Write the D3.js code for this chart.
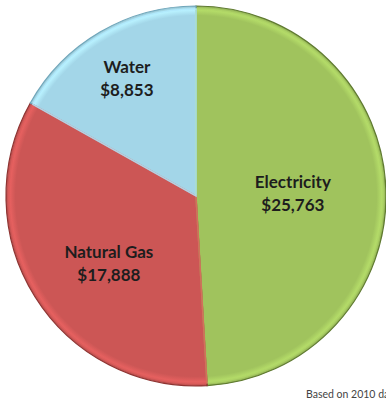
<!DOCTYPE html>
<html><head><meta charset="utf-8">
<script src="https://cdn.jsdelivr.net/npm/d3@7"></script>
<style>html,body{margin:0;padding:0;background:#fff;overflow:hidden}</style>
</head><body>
<svg id="c" width="386" height="404"></svg>
<script>
const categories = ["Electricity", "Natural Gas", "Water"];
const values = [25763, 17888, 8853];
const colors = ["#a0c35d", "#cc5655", "#a3d6e8"];
const strokes = ["#5f7a30", "#8e3432", "#6fa6ba"];
const footnote = "Based on 2010 data";

const svg = d3.select("#c");
const cx = 196, cy = 196, r = 190;
const g = svg.append("g").attr("transform", `translate(${cx},${cy})`);

const pie = d3.pie().sort(null).value(d => d.v);
const data = pie(categories.map((c, i) => ({c, v: values[i], i})));
const arc = d3.arc().innerRadius(0).outerRadius(r);
const inner = d3.arc().innerRadius(0).outerRadius(r - 3);

const defs = svg.append("defs");
colors.forEach((col, i) => {
  const rg = defs.append("radialGradient").attr("id", "g" + i)
    .attr("cx", 0).attr("cy", 0).attr("r", r).attr("gradientUnits", "userSpaceOnUse");
  rg.append("stop").attr("offset", "0%").attr("stop-color", col);
  rg.append("stop").attr("offset", "95%").attr("stop-color", col);
  rg.append("stop").attr("offset", "98%").attr("stop-color", d3.color(col).brighter(0.35));
  rg.append("stop").attr("offset", "100%").attr("stop-color", d3.color(col).darker(0.3));
});

g.selectAll("path.s").data(data).join("path")
  .attr("class", "s")
  .attr("d", arc)
  .attr("fill", d => `url(#g${d.data.i})`)
  .attr("stroke", d => strokes[d.data.i])
  .attr("stroke-width", 1.2);

// inner highlight bevel
g.selectAll("path.h").data(data).join("path")
  .attr("class", "h")
  .attr("d", inner)
  .attr("fill", "none")
  .attr("stroke", d => d3.color(colors[d.data.i]).brighter(0.25))
  .attr("stroke-width", 1.5)
  .attr("stroke-opacity", 0.8);

const labelPos = [
  {rad: 0.51, da: 0},
  {rad: 0.58, da: -0.1},
  {rad: 0.72, da: 0}
];
const fmt = d3.format(",");
data.forEach(d => {
  const p = labelPos[d.data.i];
  const a = (d.startAngle + d.endAngle) / 2 + p.da;
  const x = Math.sin(a) * r * p.rad, y = -Math.cos(a) * r * p.rad;
  const t = g.append("text").attr("text-anchor", "middle")
    .attr("font-family", "Lato, 'Open Sans', sans-serif")
    .attr("font-weight", "bold").attr("font-size", 17).attr("fill", "#1d1d1d");
  t.append("tspan").attr("x", x).attr("y", y - 5).text(d.data.c);
  t.append("tspan").attr("x", x).attr("y", y + 18).text("$" + fmt(d.data.v));
});

svg.append("text").attr("x", 306).attr("y", 398)
  .attr("font-family", "Lato, 'Open Sans', sans-serif").attr("font-size", 10.5)
  .attr("fill", "#444").text(footnote);
</script>
</body></html>
